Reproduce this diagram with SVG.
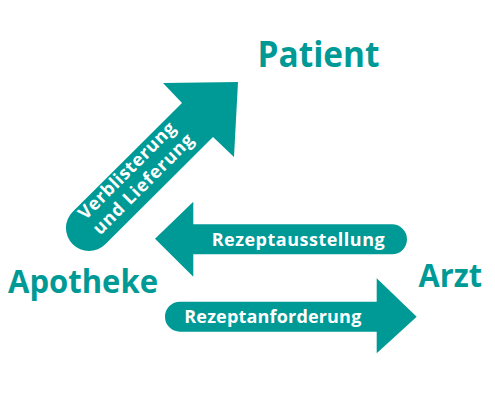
<svg xmlns="http://www.w3.org/2000/svg" width="495" height="400" viewBox="0 0 495 400">
<style>
.arrow{fill:#009a96;}
.node{font-family:"Open Sans","Liberation Sans",sans-serif;font-weight:700;fill:#009a96;}
.lbl{font-family:"Open Sans","Liberation Sans",sans-serif;font-weight:700;fill:#ffffff;font-size:18px;}
</style>
<rect width="495" height="400" fill="#ffffff"/>
<g id="connectors">
  <g id="verblisterung">
    <path class="arrow" d="M72.7 211.7 L182 103 L163 83 L238 82 L234 157 L213 137 L105.3 244.3 A23 23 0 0 1 72.7 211.7 Z"/>
    <g transform="rotate(-45)">
      <text class="lbl" x="-31" y="216.5" text-anchor="middle" textLength="129" lengthAdjust="spacing">Verblisterung</text>
      <text class="lbl" x="-29" y="237.5" text-anchor="middle" textLength="134" lengthAdjust="spacing">und Lieferung</text>
    </g>
  </g>
  <g id="rezeptausstellung">
    <path class="arrow" d="M155 238.8 L193.3 201.7 L193.3 224.3 L392 224.3 A15 15 0 0 1 392 254.3 L193.3 254.3 L193.3 276.7 Z"/>
    <text class="lbl" x="211.7" y="245.9" textLength="173" lengthAdjust="spacing">Rezeptausstellung</text>
  </g>
  <g id="rezeptanforderung">
    <path class="arrow" d="M416.7 316.7 L376.7 278.3 L376.7 301.7 L180 301.7 A15 15 0 0 0 180 331.7 L376.7 331.7 L376.7 353.3 Z"/>
    <text class="lbl" x="184.3" y="322.5" textLength="177" lengthAdjust="spacing">Rezeptanforderung</text>
  </g>
</g>
<g id="patient">
  <text class="node" x="257.5" y="66.7" font-size="36" textLength="122" lengthAdjust="spacingAndGlyphs">Patient</text>
</g>
<g id="apotheke">
  <text class="node" x="8" y="292.5" font-size="31.5" textLength="150" lengthAdjust="spacingAndGlyphs">Apotheke</text>
</g>
<g id="arzt">
  <text class="node" x="418.5" y="287.3" font-size="31.5" textLength="63.5" lengthAdjust="spacingAndGlyphs">Arzt</text>
</g>
</svg>
